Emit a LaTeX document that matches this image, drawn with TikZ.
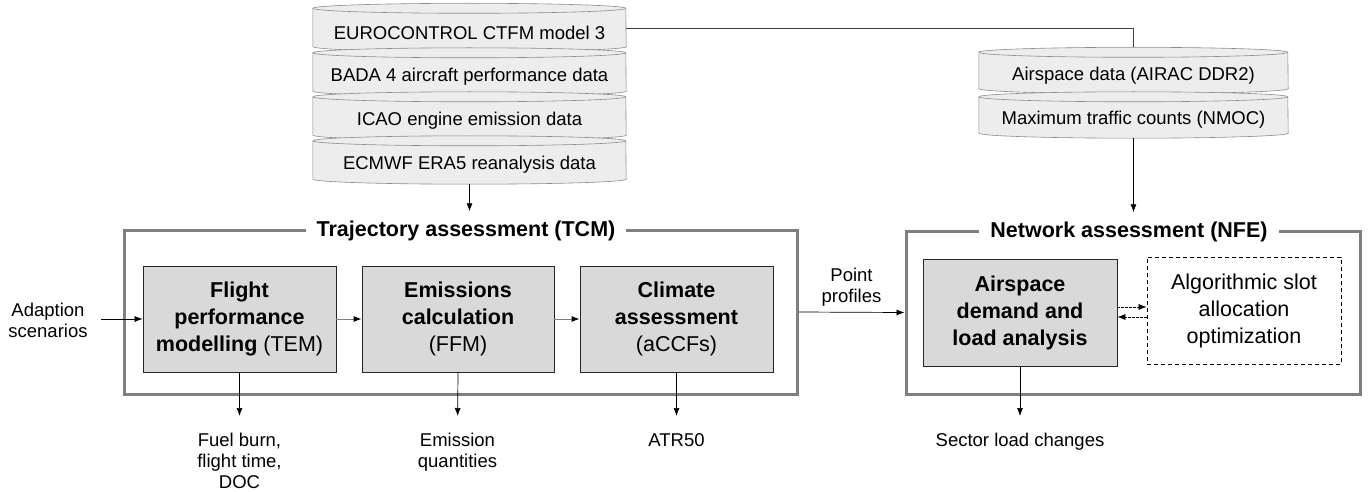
\documentclass[tikz,border=0pt]{standalone}
\usepackage{fontspec}
\setmainfont{Liberation Sans}
\usetikzlibrary{arrows.meta,positioning,backgrounds}

\definecolor{drumfill}{HTML}{EDEDED}
\definecolor{drumedge}{HTML}{8C8C8C}
\definecolor{boxfill}{HTML}{D9D9D9}
\definecolor{framegray}{HTML}{7F7F7F}

\tikzset{
    drum/.style={minimum width=313pt, minimum height=38pt, inner sep=0pt, font=\fontsize{18.5}{22}\selectfont},
    module/.style={draw=black!85, fill=boxfill, line width=0.8pt, minimum width=193pt, minimum height=106pt,
        inner sep=0pt, align=center, font=\fontsize{21.5}{27}\selectfont},
    frame/.style={draw=framegray, line width=3pt, inner sep=0pt},
    frametitle/.style={fill=white, inner xsep=11pt, inner ysep=2pt, font=\fontsize{21.5}{25}\selectfont\bfseries},
    outtext/.style={align=center, font=\fontsize{18.5}{21}\selectfont},
    arr/.style={-{Latex[length=8pt,width=6pt]}, line width=0.7pt},
    grayarr/.style={draw=framegray, line width=0.9pt, -{Latex[length=8pt,width=6pt,color=black]}},
}

% cylinder outline behind a drum node: node name, half width
\newcommand{\drumshape}[2]{%
    \filldraw[fill=drumfill, draw=drumedge, line width=0.6pt]
        ([yshift=5pt]#1.south west) -- ([yshift=5pt]#1.north west)
        arc[start angle=180, end angle=0, x radius=#2, y radius=5pt]
        -- ([yshift=5pt]#1.south east)
        arc[start angle=0, end angle=-180, x radius=#2, y radius=5pt] -- cycle;
    \draw[drumedge, line width=0.6pt] ([yshift=5pt]#1.north west)
        arc[start angle=180, end angle=360, x radius=#2, y radius=5pt];
}

\begin{document}
\begin{tikzpicture}[x=1pt, y=1pt]
            \useasboundingbox (0,0) rectangle (1370,-492);

            % Data sources of the trajectory assessment
            \node[drum] (ctfm) at (469.5,-32.5) {EUROCONTROL CTFM model 3};
            \node[drum] (bada) at (469.5,-77) {BADA 4 aircraft performance data};
            \node[drum] (icao) at (469.5,-121) {ICAO engine emission data};
            \node[drum] (era) at (469.5,-165) {ECMWF ERA5 reanalysis data};

            % Data sources of the network assessment
            \node[drum, minimum width=309pt, minimum height=36pt] (airac) at (1133.5,-75.5) {Airspace data (AIRAC DDR2)};
            \node[drum, minimum width=309pt, minimum height=36pt] (nmoc) at (1133.5,-120) {Maximum traffic counts (NMOC)};

            \begin{pgfonlayer}{background}
                \drumshape{ctfm}{156.5pt}
                \drumshape{bada}{156.5pt}
                \drumshape{icao}{156.5pt}
                \drumshape{era}{156.5pt}
                \drumshape{airac}{154.5pt}
                \drumshape{nmoc}{154.5pt}
            \end{pgfonlayer}

            % Frames with their titles
            \node[frame, minimum width=673pt, minimum height=164pt] (tcm) at (460.5,-312) {};
            \node[frametitle] (tcmtitle) at ([xshift=5.5pt, yshift=-2pt]tcm.north) {Trajectory assessment (TCM)};
            \node[frame, minimum width=454pt, minimum height=163pt] (nfe) at (1133,-312.5) {};
            \node[frametitle] (nfetitle) at ([xshift=-4pt, yshift=-2pt]nfe.north) {Network assessment (NFE)};

            % Modules
            \node[module] (tem) at (239.5,-319) {\textbf{Flight}\\ \textbf{performance}\\ \textbf{modelling} (TEM)};
            \node[module, minimum width=192pt] (ffm) at (458,-319) {\textbf{Emissions}\\ \textbf{calculation}\\ (FFM)};
            \node[module] (accf) at (676.5,-319) {\textbf{Climate}\\ \textbf{assessment}\\ (aCCFs)};
            \node[module, minimum width=194pt, minimum height=107pt, font=\fontsize{21.5}{27}\selectfont\bfseries] (load) at (1020,-312.5) {Airspace\\ demand and\\ load analysis};
            \node[module, fill=none, draw=black, dashed, dash pattern=on 4pt off 3pt, minimum width=194pt, minimum height=107pt] (slot) at (1244,-310.5) {Algorithmic slot\\ allocation\\ optimization};

            % Inputs and outputs
            \node[outtext] (adapt) at (48,-320) {Adaption\\ scenarios};
            \node[outtext, anchor=north] (fuel) at (239.5,-430) {Fuel burn,\\ flight time,\\ DOC};
            \node[outtext, anchor=north] (emis) at (457.5,-430) {Emission\\ quantities};
            \node[outtext, anchor=north] (atr) at (676.5,-430) {ATR50};
            \node[outtext, anchor=north] (sector) at (1020,-430) {Sector load changes};

            % Connectors
            \draw[black!75, line width=0.7pt] ([yshift=4pt]ctfm.east) -| ([yshift=10pt]airac.north);
            \draw[arr, shorten >=7pt] (era.south) -- (era.south |- tcmtitle.north);
            \draw[arr, shorten >=7pt] (nmoc.south) -- (nmoc.south |- nfetitle.north);

            \draw[arr, shorten <=10pt] (adapt.east |- tem.west) -- (tem.west);
            \path[grayarr] (tem) edge (ffm);
            \path[grayarr] (ffm) edge (accf);
            \draw[arr] (tcm.east) -- node[outtext, above=2pt] (pp) {Point\\ profiles} (nfe.west);

            \draw[arr, dash pattern=on 2.5pt off 1.5pt, line width=0.6pt] ([yshift=5.5pt]load.east) -- ([yshift=5.5pt]load.east -| slot.west);
            \draw[arr, dash pattern=on 2.5pt off 1.5pt, line width=0.6pt] ([yshift=-4.5pt]load.east -| slot.west) -- ([yshift=-4.5pt]load.east);

            \draw[arr, shorten >=14pt] (tem.south) -- (fuel.north);
            \draw[arr, shorten >=14pt] (ffm.south) -- (emis.north);
            \draw[arr, shorten >=14pt] (accf.south) -- (atr.north);
            \draw[arr, shorten >=14pt] (load.south) -- (sector.north);
\end{tikzpicture}
\end{document}
